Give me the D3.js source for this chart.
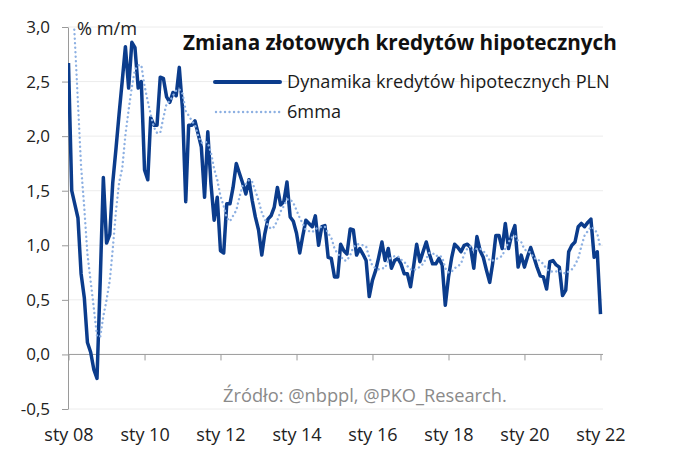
<!DOCTYPE html>
<html><head><meta charset="utf-8">
<script src="https://cdn.jsdelivr.net/npm/d3@7"></script>
<style>
body{margin:0;background:#fff}
svg{display:block}
text{font-family:"Open Sans",sans-serif}
</style>
</head><body>
<svg id="c" width="680" height="471"></svg>
<script>
// ---- data (monthly, from Jan 2008) ----
const startYear = 2008;
const mortgage = [
 2.67,1.50,1.38,1.25,0.74,0.52,0.11,0.02,-0.14,-0.22,0.68,1.62,
 1.02,1.10,1.57,1.88,2.20,2.51,2.82,2.44,2.86,2.81,2.44,2.50,
 1.69,1.60,2.17,2.10,2.10,2.54,2.53,2.36,2.31,2.40,2.37,2.63,
 2.25,1.40,2.10,2.10,2.14,2.02,1.90,1.44,2.04,1.57,1.23,1.44,
 0.95,0.93,1.38,1.38,1.53,1.75,1.66,1.57,1.47,1.60,1.41,1.26,
 1.14,0.91,1.10,1.24,1.27,1.35,1.53,1.37,1.40,1.58,1.26,1.22,
 1.11,0.93,1.08,1.23,1.20,1.17,1.27,1.00,1.17,1.18,0.89,0.88,
 0.71,0.71,1.01,0.95,0.92,1.15,1.14,0.91,0.97,0.92,0.86,0.53,
 0.68,0.77,0.89,1.03,0.86,0.97,0.79,0.86,0.88,0.83,0.74,0.74,
 0.62,0.82,1.01,0.85,0.94,1.03,0.92,0.83,0.83,0.88,0.82,0.45,
 0.71,0.89,1.01,0.98,0.94,1.00,1.01,0.98,0.79,1.08,0.95,0.89,
 0.77,0.66,0.83,1.09,1.09,0.97,1.20,0.97,1.10,1.18,0.80,0.91,
 0.80,0.90,0.98,0.89,0.80,0.72,0.71,0.60,0.85,0.86,0.82,0.80,
 0.54,0.59,0.94,1.00,1.03,1.17,1.20,1.17,1.21,1.24,0.89,0.94,
 0.37
];
const ma6 = [
 3.80,3.40,2.90,2.30,1.72,1.34,0.92,0.67,0.42,0.17,0.16,0.35,
 0.50,0.68,0.96,1.31,1.57,1.71,2.01,2.24,2.45,2.61,2.65,2.65,
 2.46,2.32,2.20,2.08,2.03,2.03,2.17,2.30,2.32,2.37,2.42,2.43,
 2.39,2.23,2.19,2.14,2.10,2.00,1.94,1.95,1.94,1.85,1.70,1.60,
 1.45,1.36,1.25,1.22,1.27,1.32,1.44,1.55,1.56,1.60,1.58,1.50,
 1.41,1.30,1.24,1.18,1.15,1.17,1.23,1.31,1.36,1.42,1.42,1.39,
 1.32,1.25,1.20,1.14,1.13,1.12,1.15,1.16,1.17,1.17,1.11,1.07,
 0.97,0.92,0.90,0.86,0.86,0.91,0.98,1.01,1.01,1.00,0.99,0.89,
 0.81,0.79,0.78,0.79,0.79,0.87,0.89,0.90,0.90,0.87,0.85,0.81,
 0.78,0.77,0.79,0.80,0.83,0.88,0.93,0.93,0.90,0.91,0.89,0.79,
 0.75,0.76,0.79,0.81,0.83,0.92,0.97,0.99,0.95,0.97,0.97,0.95,
 0.91,0.86,0.86,0.87,0.89,0.90,0.97,1.03,1.07,1.09,1.04,1.03,
 0.96,0.95,0.93,0.88,0.88,0.85,0.83,0.78,0.76,0.76,0.76,0.77,
 0.75,0.74,0.76,0.78,0.82,0.88,0.99,1.09,1.13,1.17,1.15,1.11,
 0.97
];
const yTicks = [-0.5,0,0.5,1,1.5,2,2.5,3];
const xTickYears = [2008,2010,2012,2014,2016,2018,2020,2022];
const xTickLabels = ["sty 08","sty 10","sty 12","sty 14","sty 16","sty 18","sty 20","sty 22"];
const seriesNames = ["Dynamika kredytów hipotecznych PLN","6mma"];
const titleText = "Zmiana złotowych kredytów hipotecznych";
const unitText = "% m/m";
const sourceText = "Źródło: @nbppl, @PKO_Research.";

// ---- layout ----
const L = 68, R = 603, T = 27, B = 409;
const darkBlue = "#0b3c8c", lightBlue = "#8db0e2";
const svg = d3.select("#c");

const months = d3.timeMonth.range(new Date(startYear,0,1), new Date(startYear,mortgage.length,1));
const x = d3.scaleTime().domain([new Date(2008,0,1), new Date(2022,0,1)]).range([68.5, 600.5]);
const y = d3.scaleLinear().domain([-0.5,3]).range([B,T]);

function fit(sel, target){
  const fs = parseFloat(sel.attr("font-size"));
  const w = sel.node().getComputedTextLength();
  if (w>0) sel.attr("font-size", (fs*target/w).toFixed(2));
  return sel;
}

// gridlines
svg.append("g").selectAll("line").data(yTicks.filter(d=>d!==0)).join("line")
  .attr("x1",L).attr("x2",R).attr("y1",d=>y(d)).attr("y2",d=>y(d))
  .attr("stroke","#ececec").attr("stroke-width",1);

// y axis
const yAxis = svg.append("g").attr("transform",`translate(${L},0)`)
  .call(d3.axisLeft(y).tickValues(yTicks).tickSize(6).tickSizeOuter(0).tickPadding(12)
    .tickFormat(d=>d3.format(".1f")(d).replace(".",",").replace("−","-")));
yAxis.select(".domain").attr("stroke","#9a9a9a");
yAxis.selectAll(".tick line").attr("stroke","#9a9a9a");
yAxis.selectAll(".tick text").attr("font-size",17).attr("fill","#222")
  .style("font-family","'Open Sans',sans-serif");

// zero line
svg.append("line").attr("x1",L).attr("x2",R).attr("y1",y(0)).attr("y2",y(0))
  .attr("stroke","#9a9a9a").attr("stroke-width",1);

// x axis
const xAxis = svg.append("g").attr("transform",`translate(0,${y(0)})`)
  .call(d3.axisBottom(x).tickValues(xTickYears.map(yr=>new Date(yr,0,1)))
    .tickSize(6).tickSizeOuter(0).tickPadding(68)
    .tickFormat((d,i)=>xTickLabels[i]));
xAxis.select(".domain").remove();
xAxis.selectAll(".tick line").attr("stroke","#9a9a9a");
xAxis.selectAll(".tick text").attr("font-size",18).attr("fill","#222")
  .style("font-family","'Open Sans',sans-serif");

// clip
svg.append("clipPath").attr("id","pc").append("rect")
  .attr("x",L).attr("y",T).attr("width",R-L).attr("height",B-T);

const line = d3.line().x((d,i)=>x(months[i])).y(d=>y(d));
svg.append("path").datum(mortgage).attr("clip-path","url(#pc)")
  .attr("d",line).attr("fill","none").attr("stroke",darkBlue)
  .attr("stroke-width",3.5).attr("stroke-linejoin","round");
svg.append("path").datum(ma6).attr("clip-path","url(#pc)")
  .attr("d",line).attr("fill","none").attr("stroke",lightBlue)
  .attr("stroke-width",2.4).attr("stroke-linecap","round").attr("stroke-dasharray","0.01,4.5");

// title
fit(svg.append("text").attr("x",183).attr("y",50).attr("font-size",20)
  .attr("font-weight","bold").attr("fill","#111").text(titleText), 434);

// legend
svg.append("line").attr("x1",215).attr("x2",280).attr("y1",82).attr("y2",82)
  .attr("stroke",darkBlue).attr("stroke-width",4).attr("stroke-linecap","round");
const leg1 = fit(svg.append("text").attr("x",287).attr("y",88).attr("font-size",18)
  .attr("fill","#1a1a1a").text(seriesNames[0]), 323);
svg.append("line").attr("x1",216).attr("x2",280).attr("y1",112).attr("y2",112)
  .attr("stroke",lightBlue).attr("stroke-width",2.4).attr("stroke-linecap","round").attr("stroke-dasharray","0.01,4.5");
svg.append("text").attr("x",287).attr("y",118).attr("font-size",leg1.attr("font-size"))
  .attr("fill","#1a1a1a").text(seriesNames[1]);

// unit label
fit(svg.append("text").attr("x",77).attr("y",35).attr("font-size",17)
  .attr("fill","#222").text(unitText), 60);

// source
fit(svg.append("text").attr("x",223).attr("y",402).attr("font-size",17)
  .attr("fill","#8a8a8a").text(sourceText), 284);
</script>
</body></html>
